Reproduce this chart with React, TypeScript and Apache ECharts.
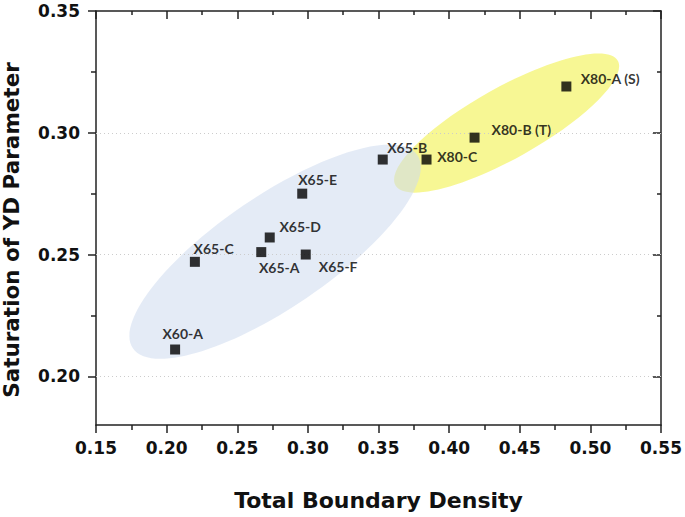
import React, { useEffect, useRef } from "react";
import * as echarts from "echarts";

const categories = ["X60-A", "X65-C", "X65-A", "X65-D", "X65-F", "X65-E", "X65-B", "X80-C", "X80-B (T)", "X80-A (S)"];
const boundaryDensity = [0.206, 0.220, 0.267, 0.273, 0.2985, 0.296, 0.353, 0.384, 0.418, 0.483];
const ydSaturation = [0.211, 0.247, 0.251, 0.257, 0.250, 0.275, 0.289, 0.289, 0.298, 0.319];
const labelOffsets = [[-12.7, -16.3], [-1.3, -13.7], [-2.3, 15], [9.7, -11], [13, 12.3], [-4, -14], [4.4, -12], [10.7, -3.3], [17, -7.7], [14.3, -8]];
const yMajorTicks = [0.2, 0.25, 0.3, 0.35];
const yMinorTicks = [0.225, 0.275, 0.325];
const gridLineValues = [0.2, 0.25, 0.3];

// group ellipses: center in data units, radii in px, rotation in degrees
const groupCenters = [[0.4407, 0.304], [0.2768, 0.2512]];
const groupRadii = [[127.5, 35.5], [172, 56]];
const groupAngles = [29.3, 34.2];
const groupColors = ["rgba(246,246,136,0.9)", "rgba(205,218,238,0.55)"];

const axisColor = "#222";
const labelFont = { fontFamily: "DejaVu Sans", fontWeight: "bold" as const, color: "#111" };

export default function App() {
  const ref = useRef<HTMLDivElement>(null);
  useEffect(() => {
    document.body.style.margin = "0";
    const chart = echarts.init(ref.current!, null, { renderer: "svg" });
    const lineStyle = { color: axisColor, width: 1.5 };
    const hiddenLabel = { show: false };
    chart.setOption({
      animation: false,
      backgroundColor: "#fff",
      grid: { left: 96, right: 24, top: 11, bottom: 92, containLabel: false, outerBoundsMode: "none" },
      xAxis: [
        {
          type: "value", min: 0.15, max: 0.55, interval: 0.05, position: "bottom",
          axisLine: { show: true, lineStyle },
          axisTick: { show: true, length: 8, lineStyle },
          minorTick: { show: true, splitNumber: 2, length: 5, lineStyle },
          axisLabel: { ...labelFont, fontSize: 17, margin: 14, showMinLabel: true, showMaxLabel: true, formatter: (v: number) => v.toFixed(2) },
          splitLine: { show: false },
          name: "Total Boundary Density", nameLocation: "middle", nameGap: 64,
          nameTextStyle: { ...labelFont, fontSize: 22 },
        },
        {
          type: "value", min: 0.15, max: 0.55, interval: 0.05, position: "top",
          axisLine: { show: true, lineStyle },
          axisTick: { show: true, inside: true, length: 8, lineStyle },
          minorTick: { show: true, splitNumber: 2, length: 4, lineStyle },
          axisLabel: hiddenLabel, splitLine: { show: false },
        },
      ],
      yAxis: [
        {
          type: "value", min: 0.18, max: 0.35, position: "left",
          axisLine: { show: true, lineStyle },
          axisTick: { show: true, length: 8, lineStyle, customValues: yMajorTicks },
          axisLabel: { ...labelFont, fontSize: 17, margin: 16, customValues: yMajorTicks, formatter: (v: number) => v.toFixed(2) },
          splitLine: { show: false },
          name: "Saturation of YD Parameter", nameLocation: "middle", nameGap: 74,
          nameTextStyle: { ...labelFont, fontSize: 21.5, padding: [0, 24, 0, 0] },
        },
        {
          type: "value", min: 0.18, max: 0.35, position: "left",
          axisLine: { show: false },
          axisTick: { show: true, length: 5, lineStyle, customValues: yMinorTicks },
          axisLabel: hiddenLabel, splitLine: { show: false },
        },
        {
          type: "value", min: 0.18, max: 0.35, position: "right",
          axisLine: { show: true, lineStyle },
          axisTick: { show: true, inside: true, length: 8, lineStyle, customValues: yMajorTicks },
          axisLabel: hiddenLabel, splitLine: { show: false },
        },
        {
          type: "value", min: 0.18, max: 0.35, position: "right",
          axisLine: { show: false },
          axisTick: { show: true, inside: true, length: 4, lineStyle, customValues: yMinorTicks },
          axisLabel: hiddenLabel, splitLine: { show: false },
        },
      ],
      series: [
        {
          type: "custom",
          z: 0,
          silent: true,
          xAxisIndex: 0,
          yAxisIndex: 0,
          data: groupCenters,
          renderItem: (params: any, api: any) => {
            const i = params.dataIndex;
            const c = api.coord([api.value(0), api.value(1)]);
            return {
              type: "ellipse",
              x: c[0], y: c[1],
              rotation: (groupAngles[i] * Math.PI) / 180,
              shape: { cx: 0, cy: 0, rx: groupRadii[i][0], ry: groupRadii[i][1] },
              style: { fill: groupColors[i], stroke: "none" },
            };
          },
          markLine: {
            z: 1,
            silent: true,
            symbol: "none",
            label: { show: false },
            lineStyle: { type: [1, 3], color: "#cccccc", width: 1 },
            data: gridLineValues.map((v) => ({ yAxis: v })),
          },
        },
        {
          type: "scatter",
          z: 3,
          xAxisIndex: 0,
          yAxisIndex: 0,
          symbol: "rect",
          symbolSize: 10,
          itemStyle: { color: "#000" },
          data: categories.map((name, i) => ({
            name,
            value: [boundaryDensity[i], ydSaturation[i]],
            label: { offset: labelOffsets[i] },
          })),
          label: {
            show: true,
            position: "inside",
            align: "left",
            verticalAlign: "middle",
            formatter: (p: any) => p.name,
            fontFamily: "Lato",
            fontWeight: "bold",
            fontSize: 14,
            color: "#000",
          },
        },
      ],
    });
    return () => chart.dispose();
  }, []);
  return <div ref={ref} style={{ width: 685, height: 517 }} />;
}
